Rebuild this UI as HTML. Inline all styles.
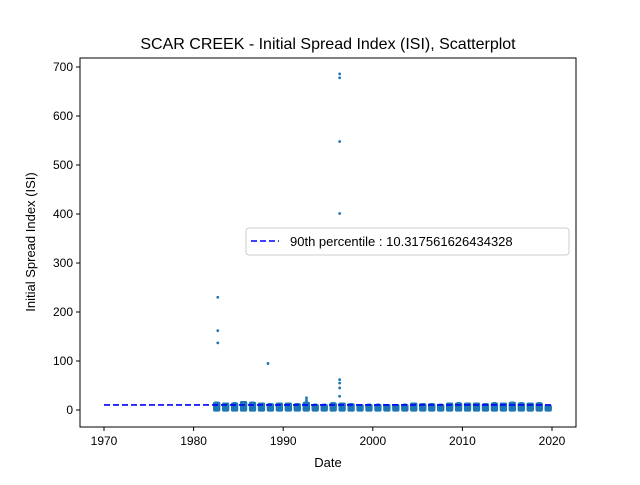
<!DOCTYPE html>
<html><head><meta charset="utf-8"><style>
body{margin:0;background:#fff;}
svg text{font-family:"Liberation Sans","DejaVu Sans",sans-serif;}
</style></head><body>
<svg id="chart" width="640" height="480" viewBox="0 0 640 480">
<rect width="640" height="480" fill="#fff"/>
<text x="328" y="49" font-size="16" text-anchor="middle">SCAR CREEK - Initial Spread Index (ISI), Scatterplot</text>
<g id="marks"></g>
<g id="axes"></g>
<text x="328" y="467" font-size="13" text-anchor="middle">Date</text>
<text transform="translate(35,242) rotate(-90)" font-size="13" text-anchor="middle">Initial Spread Index (ISI)</text>
<g>
<rect x="246" y="228" width="323" height="27" fill="#fff" stroke="#ccc" rx="3"/>
<line x1="251" y1="241" x2="279" y2="241" stroke="#0000ff" stroke-width="1.6" stroke-dasharray="6,3"/>
<text x="290" y="246" font-size="13">90th percentile : 10.317561626434328</text>
</g>
</svg>
<script>
const seasonYears=[1982,1983,1984,1985,1986,1987,1988,1989,1990,1991,1992,1993,1994,1995,1996,1997,1998,1999,2000,2001,2002,2003,2004,2005,2006,2007,2008,2009,2010,2011,2012,2013,2014,2015,2016,2017,2018,2019];
const seasonMax=[14,12,13,15,14,12,11,12,12,11,14,10,10,13,12,11,9,10,10,9,9,10,12,11,11,10,12,13,12,12,11,13,12,14,13,12,13,8];
const outlierX=[1982.7,1982.7,1982.7,1988.3,1992.6,1992.6,1996.3,1996.3,1996.3,1996.3,1996.3,1996.3,1996.3,1996.3];
const outlierY=[230,162,137,95,25,20,686,678,548,401,62,55,45,28];
const xTicks=[1970,1980,1990,2000,2010,2020];
const yTicks=[0,100,200,300,400,500,600,700];
const percentile=10.317561626434328;
const L=80,R=576,T=58,B=427;
const xs=v=>104+(v-1970)*(552-104)/50;
const ys=v=>410-v*(410-67)/700;
const NS="http://www.w3.org/2000/svg";
const marks=document.getElementById('marks'),axes=document.getElementById('axes');
function mk(tag,attrs,parent){const e=document.createElementNS(NS,tag);for(const k in attrs)e.setAttribute(k,attrs[k]);parent.appendChild(e);return e;}
seasonYears.forEach((yr,i)=>{
  const x0=yr+0.35,x1=yr+0.8;
  const n=8;
  for(let j=0;j<n;j++){
    const xv=x0+(x1-x0)*j/(n-1);
    for(let v=0;v<=seasonMax[i];v+=1.5){
      const c=mk('circle',{cx:xs(xv),cy:ys(v),r:1.6,fill:'#1f77b4'},marks);
      
      
    }
    const c=mk('circle',{cx:xs(xv),cy:ys(seasonMax[i]*(0.6+0.4*((j%3)/2))),r:1.6,fill:'#1f77b4'},marks);
    
    
  }
});
outlierX.forEach((xv,i)=>{
  const c=mk('circle',{cx:xs(xv),cy:ys(outlierY[i]),r:1.4,fill:'#1f77b4'},marks);
  
  
});
const pl=mk('line',{x1:xs(1970),x2:xs(2020),y1:ys(percentile),y2:ys(percentile),stroke:'#0000ff','stroke-width':1.6,'stroke-dasharray':'6,3'},marks);


const fr=mk('rect',{x:L,y:T,width:R-L,height:B-T,fill:'none',stroke:'#000','stroke-width':1},axes);


xTicks.forEach(t=>{
  const l=mk('line',{x1:xs(t),x2:xs(t),y1:B,y2:B+4,stroke:'#000'},axes);
  
  
  const tx=mk('text',{x:xs(t),y:B+18,'font-size':12,'text-anchor':'middle'},axes);
  tx.textContent=t;
  
  
});
yTicks.forEach(t=>{
  const l=mk('line',{x1:L-4,x2:L,y1:ys(t),y2:ys(t),stroke:'#000'},axes);
  
  
  const tx=mk('text',{x:L-7,y:ys(t)+4,'font-size':12,'text-anchor':'end'},axes);
  tx.textContent=t;
  
  
});
</script>
</body></html>
